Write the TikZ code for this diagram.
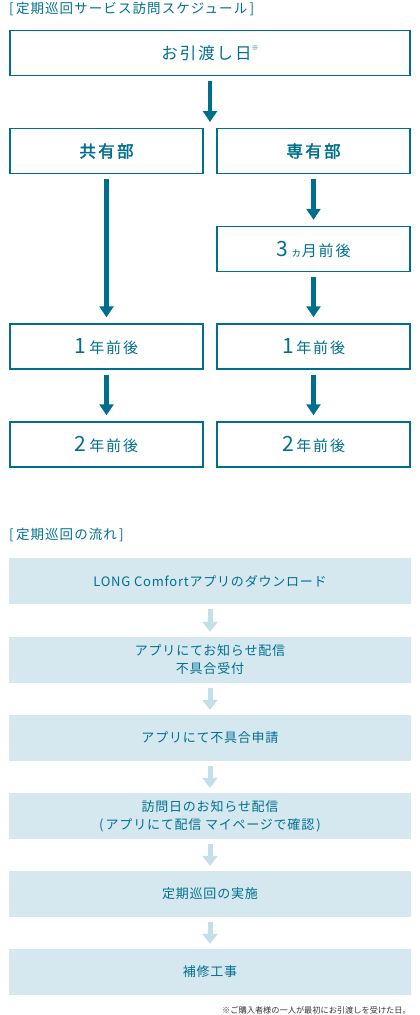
\documentclass[tikz,border=0pt]{standalone}
\usepackage{fontspec}
\setmainfont{Noto Sans CJK JP}
\newfontfamily\jpbold{Noto Sans CJK JP}[FakeBold=2.2,LetterSpace=14]
\usetikzlibrary{arrows.meta}
\definecolor{mainteal}{HTML}{006F8E}
\definecolor{lightfill}{HTML}{D5E8EF}
\definecolor{lightarrow}{HTML}{C3DFE8}
\tikzset{
  outbox/.style={draw=mainteal, line width=1.5pt, minimum height=45pt, inner sep=0pt, text=mainteal, font=\fontsize{16.5}{18}\selectfont\addfontfeatures{LetterSpace=12}},
  wbox/.style={outbox, minimum width=400pt},
  hbox/.style={outbox, minimum width=193pt},
  fbox/.style={fill=lightfill, minimum width=402pt, minimum height=46pt, inner sep=0pt, text=mainteal, align=center, font=\fontsize{13}{18}\selectfont\addfontfeatures{LetterSpace=6}},
  darrow/.style={draw=mainteal, line width=4.5pt, -{Triangle[width=14pt,length=11pt]}, shorten <=5pt, shorten >=6pt},
  larrow/.style={draw=lightarrow, line width=5pt, -{Triangle[width=15pt,length=10pt]}, shorten <=5pt, shorten >=5pt},
  ttl/.style={anchor=west, text=mainteal, inner sep=0pt, font=\fontsize{13.5}{15}\selectfont\addfontfeatures{LetterSpace=8}}
}
\newcommand{\bignum}[1]{{\fontsize{21}{21}\selectfont #1}}
\newcommand{\smlk}[1]{{\fontsize{15}{16}\selectfont #1}}
\begin{document}
\begin{tikzpicture}[x=1pt,y=-1pt]
\useasboundingbox (0,0) rectangle (420,1015);
\node[ttl] (t1) at (9,9) {[\,定期巡回サービス訪問スケジュール\,]};
\node[wbox] (start) at (210,53) {お引渡し日\raisebox{1.0ex}{\fontsize{7}{7}\selectfont ※}};
\node[hbox, font=\jpbold\fontsize{16.5}{18}\selectfont] (kyo) at (106.5,151) {共有部};
\node[hbox, font=\jpbold\fontsize{16.5}{18}\selectfont] (sen) at (313.5,151) {専有部};
\node[hbox] (m3) at (313.5,249) {\bignum{3}\,{\fontsize{11}{12}\selectfont ヵ}\smlk{月前後}};
\node[hbox] (l1) at (106.5,346.5) {\bignum{1}\,\smlk{年前後}};
\node[hbox] (r1) at (313.5,346.5) {\bignum{1}\,\smlk{年前後}};
\node[hbox] (l2) at (106.5,444.5) {\bignum{2}\,\smlk{年前後}};
\node[hbox] (r2) at (313.5,444.5) {\bignum{2}\,\smlk{年前後}};
\coordinate (split) at (210,128);
\draw[darrow] (start.south) -- (split);
\draw[darrow] (kyo.south) -- (l1.north);
\draw[darrow] (sen.south) -- (m3.north);
\draw[darrow] (m3.south) -- (r1.north);
\draw[darrow] (l1.south) -- (l2.north);
\draw[darrow] (r1.south) -- (r2.north);

\node[ttl] (t2) at (9,535) {[\,定期巡回の流れ\,]};
\node[fbox] (f1) at (210,581) {LONG Comfortアプリのダウンロード};
\node[fbox] (f2) at (210,660) {アプリにてお知らせ配信\\不具合受付};
\node[fbox] (f3) at (210,738) {アプリにて不具合申請};
\node[fbox] (f4) at (210,816) {訪問日のお知らせ配信\\(\,アプリにて配信 マイページで確認\,)};
\node[fbox] (f5) at (210,894) {定期巡回の実施};
\node[fbox] (f6) at (210,972) {補修工事};
\draw[larrow] (f1.south) -- (f2.north);
\draw[larrow] (f2.south) -- (f3.north);
\draw[larrow] (f3.south) -- (f4.north);
\draw[larrow] (f4.south) -- (f5.north);
\draw[larrow] (f5.south) -- (f6.north);
\node[anchor=east, inner sep=0pt, text=black!80, font=\fontsize{8.2}{9}\selectfont] (note) at (411,1010) {※ご購入者様の一人が最初にお引渡しを受けた日。};
\end{tikzpicture}
\end{document}
